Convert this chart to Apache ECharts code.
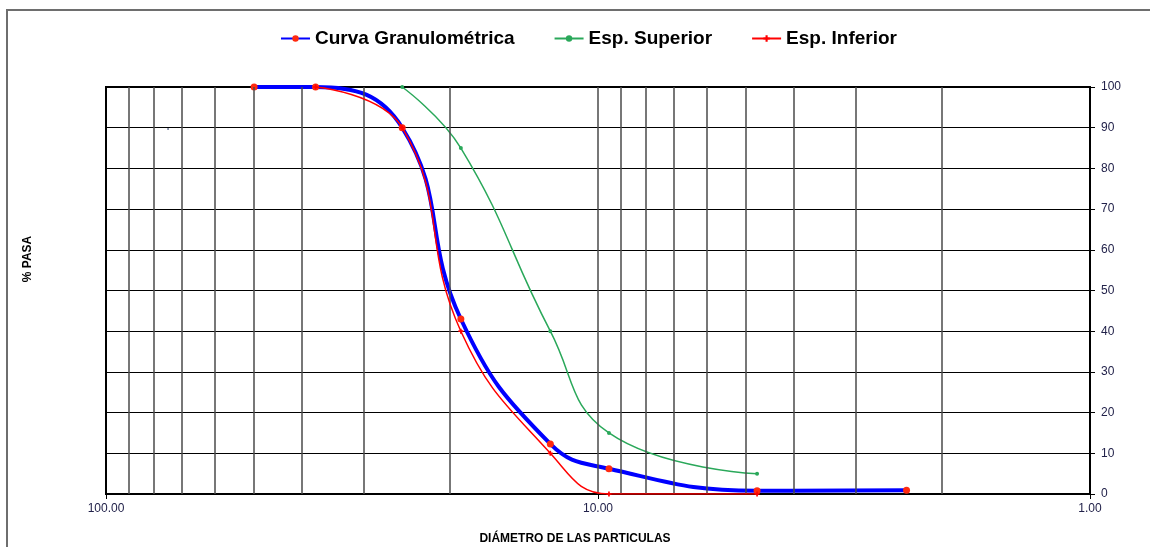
<!DOCTYPE html>
<html>
	<head>
		<meta charset="utf-8" />
		<title>Curva Granulométrica</title>
		<style type="text/css">
			html, body { margin: 0; padding: 0; background: #fff; }
			#chart { width: 1150px; height: 547px; }
		</style>
		<script src="https://cdn.jsdelivr.net/npm/echarts@6/dist/echarts.min.js" type="text/javascript" charset="utf-8"></script>
	</head>
	<body>
		<div id="chart"></div>
		<script type="text/javascript">
			// tamices (mm) y % que pasa
			var tamices = [50, 37.5, 25, 19, 12.5, 9.5, 4.75, 2.36];
			var curva = [100, 100, 90, 43, 12.3, 6.2, 0.8, 0.9];
			var tamicesSup = [25, 19, 12.5, 9.5, 4.75];
			var espSuperior = [100, 85, 40, 15, 5];
			var tamicesInf = [37.5, 25, 19, 12.5, 9.5, 4.75];
			var espInferior = [100, 90, 40, 10, 0, 0];
			// punto suelto que aparece en el grafico
			var puntoSuelto = [[74.8, 89.7]];
			// lineas verticales de la grilla logaritmica
			var lineasX = [90, 80, 70, 60, 50, 40, 30, 20, 10, 9, 8, 7, 6, 5, 4, 3, 2];

			function pares(xs, ys) {
				var out = [];
				for (var i = 0; i < xs.length; i++) out.push([xs[i], ys[i]]);
				return out;
			}

			var fuente = "'Liberation Sans', Arial, sans-serif";
			var myChart = echarts.init(document.getElementById('chart'));
			var option = {
				animation: false,
				textStyle: { fontFamily: fuente },
				legend: {
					left: 275,
					top: 24,
					itemWidth: 29,
					itemHeight: 8,
					itemGap: 39,
					textStyle: { fontSize: 19, fontWeight: 'bold', color: '#000', fontFamily: fuente },
					data: ['Curva Granulométrica', 'Esp. Superior', 'Esp. Inferior']
				},
				grid: {
					left: 106, right: 60, top: 87, bottom: 53,
					show: true, borderColor: '#000', borderWidth: 2,
					containLabel: false,
					outerBoundsMode: 'none'
				},
				graphic: [
					{
						type: 'rect', silent: true, z: -1,
						shape: { x: 7, y: 10, width: 1160, height: 560 },
						style: { fill: 'none', stroke: '#6e6e6e', lineWidth: 2 }
					},
					{
						type: 'text', x: 28, y: 259, rotation: Math.PI / 2,
						style: {
							text: '% PASA', fontSize: 12, fontWeight: 'bold', fill: '#000',
							fontFamily: fuente, align: 'center', verticalAlign: 'middle'
						}
					}
				],
				xAxis: {
					type: 'log',
					logBase: 10,
					min: 1,
					max: 100,
					inverse: true,
					name: 'DIÁMETRO DE LAS PARTICULAS',
					nameLocation: 'middle',
					nameGap: 39,
					nameTextStyle: { fontSize: 12, fontWeight: 'bold', color: '#000', padding: [0, 46, 0, 0] },
					axisLine: { show: true, lineStyle: { color: '#000', width: 2 } },
					axisTick: { show: true, length: 5, lineStyle: { color: '#000' } },
					axisLabel: {
						fontSize: 12, color: '#22224a', margin: 9,
						formatter: function (v) { return v.toFixed(2); }
					},
					splitLine: { show: false }
				},
				yAxis: {
					type: 'value',
					position: 'right',
					min: 0,
					max: 100,
					interval: 10,
					axisLine: { show: true, lineStyle: { color: '#000', width: 2 } },
					axisTick: { show: true, length: 5, lineStyle: { color: '#000' } },
					axisLabel: { fontSize: 12, color: '#22224a', margin: 11 },
					splitLine: { show: true, lineStyle: { color: '#000', width: 1 } }
				},
				series: [
					{
						name: 'grilla',
						type: 'line',
						data: [],
						silent: true,
						z: 1,
						markLine: {
							silent: true,
							symbol: 'none',
							label: { show: false },
							lineStyle: { color: '#4a4a4a', width: 1.5, type: 'solid' },
							data: lineasX.map(function (v) { return { xAxis: v }; })
						}
					},
					{
						name: 'Curva Granulométrica',
						type: 'line',
						data: pares(tamices, curva),
						smooth: 0.45,
						symbol: 'circle',
						symbolSize: 7,
						z: 3,
						itemStyle: { color: '#ff2a10' },
						lineStyle: { color: '#0000ff', width: 4 }
					},
					{
						name: 'Esp. Superior',
						type: 'line',
						data: pares(tamicesSup, espSuperior),
						smooth: 0.45,
						symbol: 'circle',
						symbolSize: 4,
						z: 4,
						itemStyle: { color: '#2aa85a' },
						lineStyle: { color: '#2aa85a', width: 1.5 }
					},
					{
						name: 'Esp. Inferior',
						type: 'line',
						data: pares(tamicesInf, espInferior),
						smooth: 0.45,
						symbol: 'path://M-1,-3h2v2h2v2h-2v2h-2v-2h-2v-2h2z',
						symbolSize: 5,
						z: 5,
						itemStyle: { color: '#ff0000' },
						lineStyle: { color: '#ff0000', width: 1.5 }
					},
					{
						name: 'suelto',
						type: 'scatter',
						data: puntoSuelto,
						symbolSize: 2,
						silent: true,
						itemStyle: { color: '#4a5a80' }
					}
				]
			};
			myChart.setOption(option);
		</script>
	</body>
</html>
